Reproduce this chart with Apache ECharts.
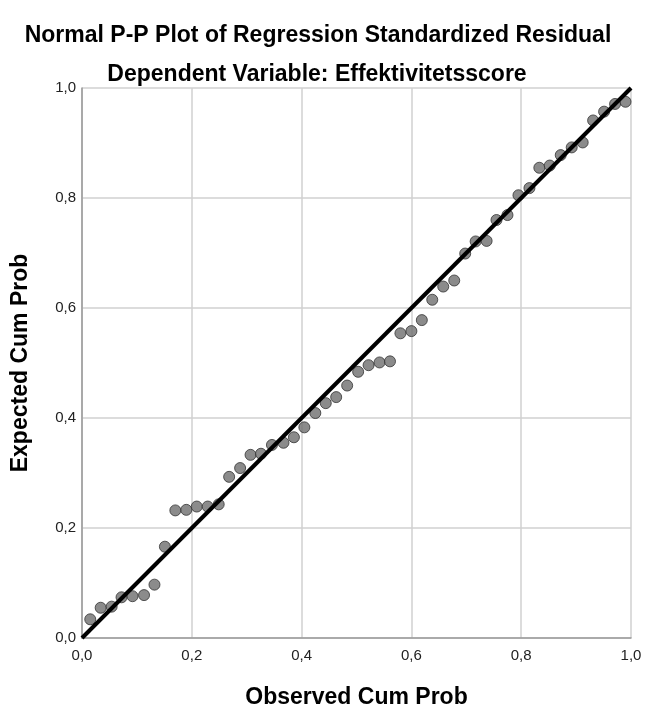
<!DOCTYPE html>
<html>
<head>
<meta charset="utf-8">
<script src="https://cdn.jsdelivr.net/npm/echarts@6/dist/echarts.min.js"></script>
<style>
  html, body { margin: 0; padding: 0; background: #fff; }
  #main { width: 646px; height: 711px; }
</style>
</head>
<body>
<div id="main"></div>
<script>
// observed cum prob (x) and expected cum prob (y)
var observed = [0.015, 0.034, 0.054, 0.072, 0.092, 0.113, 0.132, 0.151, 0.170, 0.190,
  0.209, 0.229, 0.249, 0.268, 0.288, 0.307, 0.326, 0.346, 0.367, 0.386,
  0.405, 0.425, 0.444, 0.463, 0.483, 0.503, 0.522, 0.542, 0.561, 0.580,
  0.600, 0.619, 0.638, 0.658, 0.678, 0.698, 0.717, 0.737, 0.755, 0.775,
  0.795, 0.815, 0.833, 0.852, 0.872, 0.892, 0.912, 0.931, 0.951, 0.971, 0.990]
var expected = [0.034, 0.055, 0.057, 0.074, 0.076, 0.078, 0.097, 0.166, 0.232, 0.233,
  0.239, 0.239, 0.243, 0.293, 0.309, 0.333, 0.335, 0.351, 0.355, 0.365,
  0.383, 0.409, 0.427, 0.438, 0.459, 0.484, 0.496, 0.501, 0.503, 0.554,
  0.558, 0.578, 0.615, 0.639, 0.650, 0.699, 0.721, 0.722, 0.760, 0.769,
  0.805, 0.818, 0.855, 0.859, 0.878, 0.892, 0.901, 0.941, 0.957, 0.971, 0.975]
var refLine = [[0, 0], [1, 1]]

var points = observed.map(function (x, i) { return [x, expected[i]] })
var font = 'Liberation Sans, Arial, sans-serif'
var comma = function (v) { return v.toFixed(1).replace('.', ',') }

var myChart = echarts.init(document.getElementById('main'))
var option = {
  backgroundColor: '#fff',
  animation: false,
  title: [
    {
      text: 'Normal P-P Plot of Regression Standardized Residual',
      left: 313, top: 19, textAlign: 'center',
      textStyle: { fontFamily: font, fontSize: 23, fontWeight: 'bold', color: '#000' }
    },
    {
      text: 'Dependent Variable: Effektivitetsscore',
      left: 312, top: 58, textAlign: 'center',
      textStyle: { fontFamily: font, fontSize: 23, fontWeight: 'bold', color: '#000' }
    }
  ],
  // keep the plot where it is, even though the axis name sits near the bottom edge
  grid: { left: 82, top: 88, right: 15, bottom: 73, outerBoundsMode: 'none' },
  xAxis: {
    type: 'value', min: 0, max: 1, interval: 0.2,
    name: 'Observed Cum Prob', nameLocation: 'middle', nameGap: 48,
    nameTextStyle: { fontFamily: font, fontSize: 23, fontWeight: 'bold', color: '#000' },
    axisLine: { lineStyle: { color: '#999', width: 1.5 } },
    axisTick: { show: false },
    axisLabel: { formatter: comma, fontFamily: font, fontSize: 15, color: '#222', margin: 10 },
    splitLine: { lineStyle: { color: '#d0d0d0', width: 1.5 } }
  },
  yAxis: {
    type: 'value', min: 0, max: 1, interval: 0.2,
    name: 'Expected Cum Prob', nameLocation: 'middle', nameGap: 50,
    nameTextStyle: { fontFamily: font, fontSize: 23, fontWeight: 'bold', color: '#000' },
    axisLine: { show: true, lineStyle: { color: '#999', width: 1.5 } },
    axisTick: { show: false },
    axisLabel: { formatter: comma, fontFamily: font, fontSize: 15, color: '#222', margin: 6 },
    splitLine: { lineStyle: { color: '#d0d0d0', width: 1.5 } }
  },
  series: [
    {
      type: 'scatter',
      data: points,
      symbolSize: 11,
      itemStyle: { color: '#6e6e6e', borderColor: '#333', borderWidth: 1 },
      z: 2
    },
    {
      type: 'line',
      data: refLine,
      symbol: 'none',
      lineStyle: { color: '#000', width: 4 },
      z: 3
    }
  ]
}
myChart.setOption(option)
</script>
</body>
</html>
